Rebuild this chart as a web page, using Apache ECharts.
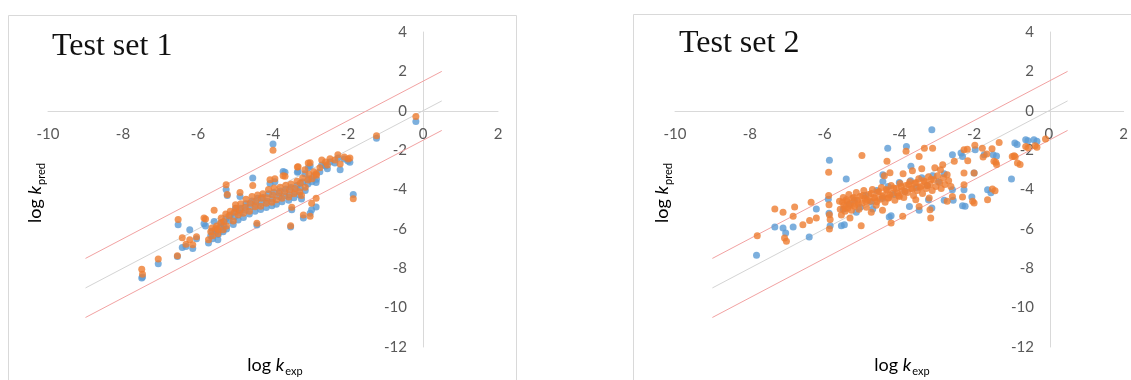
<!DOCTYPE html>
<html>
<head>
<meta charset="utf-8">
<script src="https://cdn.jsdelivr.net/npm/echarts@6/dist/echarts.min.js"></script>
<style>
html,body{margin:0;padding:0;background:#fff;}
#chart{width:1131px;height:380px;}
</style>
</head>
<body>
<div id="chart"></div>
<script>
// ---------- DATA ----------
var xTicks = [-10, -8, -6, -4, -2, 0, 2];
var yTicks = [4, 2, 0, -2, -4, -6, -8, -10, -12];
var panelTitles = ['Test set 1', 'Test set 2'];

// reference lines: y = x and y = x ± 1.5 drawn between these x values
var refLineX = [-9, 0.5];
var refOffset = 1.5;

// Test set 1 (same compounds for both models)
var set1X = [-7.50,-7.48,-7.06,-6.55,-6.53,-6.42,-6.32,-6.22,-6.14,-6.04,-5.84,-5.80,-5.57,-5.47,-5.25,-5.22,-5.00,-4.88,-4.54,-4.43,-4.00,-3.53,-3.50,-3.24,-3.19,-3.01,-2.97,-2.85,-1.86,-1.24,-0.19,
 -1.95,-2.00,-2.10,-2.27,-2.21,-2.35,-2.48,-2.55,-2.60,-2.70,-2.75,-2.85,-3.01,-3.06,-3.15,-3.33,-3.35,-3.68,-3.73,-3.95,-4.08,
 -5.72,-5.66,-5.63,-5.61,-5.53,-5.50,-5.46,-5.40,-5.38,-5.33,-5.31,-5.26,-5.24,-5.17,-5.14,-5.06,-5.03,-4.99,-4.93,-4.88,-4.86,-4.79,-4.74,-4.72,-4.63,-4.61,-4.56,-4.48,-4.46,-4.41,-4.33,-4.31,-4.27,-4.18,-4.16,-4.12,-4.03,-4.01,-3.97,-3.91,-3.84,-3.81,-3.76,-3.69,-3.66,-3.58,-3.56,-3.52,-3.44,-3.41,-3.36,-3.29,-3.27,-3.21,-3.14,-3.07,-3.04,-2.96,-2.91,-2.84];
var set1Blue = [-8.50,-8.45,-7.77,-7.40,-5.79,-6.95,-6.90,-6.05,-7.00,-6.50,-5.74,-5.85,-5.62,-6.55,-4.00,-4.30,-4.95,-4.35,-3.42,-5.80,-1.69,-5.90,-5.03,-4.48,-5.45,-5.20,-5.03,-4.89,-4.26,-1.40,-0.54,
 -2.62,-2.55,-2.45,-2.40,-3.00,-2.65,-2.60,-2.95,-2.80,-2.75,-3.10,-3.65,-2.80,-2.90,-3.20,-3.08,-3.13,-3.13,-3.08,-3.60,-3.70,
 -6.72,-6.35,-6.12,-6.50,-6.18,-6.00,-6.28,-5.92,-5.68,-6.15,-5.80,-5.48,-6.00,-5.58,-5.30,-5.78,-5.40,-5.12,-5.55,-5.20,-4.95,-5.42,-5.05,-4.72,-5.25,-4.90,-4.58,-5.10,-4.78,-4.45,-5.02,-4.68,-4.40,-4.92,-4.60,-4.22,-4.82,-4.48,-4.15,-4.75,-4.35,-4.08,-4.62,-4.32,-3.98,-4.55,-4.25,-3.90,-4.42,-4.12,-3.80,-4.28,-3.92,-3.62,-4.05,-3.72,-3.45,-3.60,-3.30,-3.48];
var set1Orange = [-8.05,-8.30,-7.53,-7.36,-5.53,-6.45,-6.78,-6.55,-6.80,-6.40,-5.45,-5.50,-5.05,-6.25,-3.76,-4.26,-4.77,-4.15,-3.80,-5.72,-2.01,-5.84,-4.90,-4.30,-5.30,-5.36,-4.70,-4.45,-4.47,-1.27,-0.29,
 -2.40,-2.45,-2.35,-2.23,-2.70,-2.50,-2.44,-2.75,-2.60,-2.50,-2.90,-3.20,-2.64,-2.66,-3.00,-2.84,-2.86,-3.33,-3.30,-3.45,-3.50,
 -6.55,-6.15,-5.95,-6.35,-5.98,-5.85,-6.05,-5.72,-5.45,-6.05,-5.62,-5.25,-5.85,-5.35,-5.10,-5.60,-5.15,-4.95,-5.30,-5.05,-4.72,-5.20,-4.90,-4.50,-5.10,-4.70,-4.35,-4.88,-4.60,-4.28,-4.85,-4.45,-4.22,-4.70,-4.42,-4.00,-4.65,-4.28,-3.92,-4.52,-4.18,-3.88,-4.45,-4.12,-3.78,-4.38,-4.02,-3.72,-4.22,-3.95,-3.58,-4.12,-3.68,-3.42,-3.88,-3.52,-3.22,-3.45,-3.10,-3.28];

// Test set 2
var set2BlueX = [-7.82,-7.33,-7.11,-7.04,-6.84,-6.41,-6.22,-5.87,-5.90,-5.88,-5.85,-5.55,-5.42,-5.47,-5.15,-4.71,-4.44,-4.31,-4.27,-4.22,-3.81,-3.73,-3.47,-3.22,-3.13,-3.13,-2.80,-2.58,-2.58,-2.56,-2.35,-2.31,-2.31,-2.27,-2.24,-2.06,-2.00,-1.97,-1.73,-1.64,-1.55,-1.49,-1.40,-1.00,-0.91,-0.85,-0.62,-0.56,-0.40,-0.32,
 -5.50,-5.35,-5.20,-5.05,-4.90,-4.75,-4.60,-4.45,-4.30,-4.15,-4.00,-3.85,-3.70,-3.55,-3.40,-3.25,-3.10,-2.95,-2.80,-3.69,-4.44];
var set2BlueY = [-7.34,-5.90,-5.96,-6.21,-5.90,-6.41,-4.99,-2.52,-4.50,-5.20,-5.84,-5.84,-3.47,-5.79,-5.16,-4.99,-3.25,-1.90,-5.40,-5.33,-1.81,-4.86,-5.06,-4.52,-4.94,-0.96,-4.55,-2.23,-4.01,-4.55,-2.15,-2.32,-4.82,-4.01,-4.85,-4.38,-3.16,-1.98,-2.23,-4.01,-4.16,-2.23,-2.30,-3.47,-1.64,-1.72,-1.47,-1.52,-1.47,-1.55,
 -5.00,-4.75,-4.55,-4.90,-4.30,-4.65,-4.05,-4.45,-3.85,-4.25,-3.65,-4.10,-3.55,-3.90,-3.40,-3.80,-3.30,-3.60,-3.20,-2.82,-3.59];
var set2OrangeX = [-7.80,-7.33,-7.11,-7.07,-7.02,-6.84,-6.80,-6.58,-6.40,-6.36,-6.22,-5.89,-5.89,-5.88,-5.87,-5.85,-5.87,-5.02,-5.00,-4.33,-4.22,-3.91,-3.82,-3.56,-3.47,-3.33,-3.20,-3.16,-3.11,-2.84,-2.58,-2.53,-2.31,-2.27,-2.27,-2.27,-2.18,-2.17,-2.04,-2.00,-1.98,-1.78,-1.76,-1.66,-1.64,-1.52,-1.51,-1.47,-1.42,-1.40,-1.33,-0.98,-0.93,-0.90,-0.84,-0.77,-0.62,-0.56,-0.37,-0.32,-0.09,-2.72,-2.00,-1.44,-3.18,-3.47,
 -5.60,-5.58,-5.55,-5.50,-5.48,-5.45,-5.40,-5.38,-5.35,-5.30,-5.28,-5.25,-5.20,-5.15,-5.12,-5.08,-5.05,-5.00,-4.95,-4.92,-4.88,-4.82,-4.78,-4.72,-4.68,-4.62,-4.58,-4.52,-4.48,-4.42,-4.38,-4.32,-4.28,-4.22,-4.18,-4.12,-4.08,-4.02,-3.98,-3.92,-3.88,-3.82,-3.78,-3.72,-3.68,-3.62,-3.58,-3.52,-3.48,-3.42,-3.38,-3.32,-3.28,-3.22,-3.18,-3.12,-3.08,-3.02,-2.98,-2.92,-2.88,-2.82,-2.78,-2.72,-2.68,-2.62,
 -5.32,-4.75,-4.45,-4.40,-4.25,-3.90,-3.65,-3.40,-3.05,-2.90,
 -5.52,-5.42,-5.33,-5.22,-5.10,-4.98,-4.85,-4.75,-4.65,-4.55,-4.45,-4.35,-4.25,-4.15,-4.05,-3.95,-3.85,-3.75,-3.65,-3.55,-3.45,-3.35,-3.25,-3.15,-5.45,-5.18,-4.90,-4.60,-4.30,-4.00];
var set2OrangeY = [-6.35,-4.99,-5.16,-6.46,-6.63,-5.36,-4.89,-5.79,-5.57,-4.65,-5.45,-3.13,-4.31,-4.77,-5.28,-5.53,-6.00,-5.84,-2.27,-2.57,-5.70,-5.36,-2.06,-4.52,-2.32,-1.90,-4.43,-5.45,-1.90,-2.74,-4.35,-2.57,-4.38,-1.98,-3.16,-3.76,-1.95,-2.54,-4.60,-3.16,-1.75,-1.90,-2.35,-2.20,-4.52,-1.93,-3.97,-2.57,-2.62,-2.73,-1.61,-2.32,-2.28,-2.34,-2.66,-2.73,-1.81,-1.88,-1.78,-1.85,-1.44,-4.60,-4.68,-4.06,-5.03,-4.86,
 -4.60,-5.00,-5.30,-4.40,-4.80,-5.10,-4.60,-4.95,-4.25,-4.70,-5.05,-4.45,-4.85,-4.15,-4.55,-5.00,-4.35,-4.70,-4.05,-4.45,-4.90,-4.25,-4.60,-4.00,-4.40,-4.80,-4.15,-4.50,-3.90,-4.30,-4.65,-4.05,-4.40,-3.80,-4.20,-4.55,-3.95,-4.30,-3.70,-4.05,-4.40,-3.80,-4.15,-3.60,-3.95,-4.30,-3.70,-4.05,-3.45,-3.85,-4.20,-3.60,-3.95,-3.35,-3.75,-4.05,-3.50,-3.85,-3.30,-3.65,-3.95,-3.40,-3.75,-3.25,-3.55,-3.85,
 -5.45,-5.15,-5.05,-3.30,-3.15,-3.20,-3.05,-2.95,-2.90,-3.00,
 -4.65,-4.52,-4.80,-4.40,-4.68,-4.30,-4.55,-4.20,-4.45,-4.10,-4.35,-4.00,-4.28,-3.92,-4.18,-3.85,-4.10,-3.75,-3.98,-3.65,-3.90,-3.55,-3.80,-3.48,-4.95,-4.75,-4.60,-4.62,-4.45,-4.35];

// ---------- BUILD ----------
function pairs(xs, ys){ var out=[]; for (var i=0;i<xs.length;i++) out.push([xs[i], ys[i]]); return out; }
function refLine(off){ return refLineX.map(function(x){ return [x, x + off]; }); }

var BLUE = '#5b9bd5', ORANGE = '#ed7d31', RED = '#f2a2a2', GRAYLINE = '#d4d4d4';
var AXISCOL = '#d9d9d9', LABCOL = '#595959', TITLECOL = '#404040';
var TICKFONT = 'Lato, "Open Sans", sans-serif';

var GW = 450, GH = 315;
var grids = [
  {left: 48, top: 32, width: GW, height: GH},
  {left: 675, top: 32, width: GW, height: GH}
];
var xMin = xTicks[0], xMax = xTicks[xTicks.length-1];
var yMin = yTicks[yTicks.length-1], yMax = yTicks[0];
// place axes so they cross at the origin (like the Excel chart)
var xAxisOffset = -GH * (0 - yMin) / (yMax - yMin);
var yAxisOffset = -GW * (0 - xMin) / (xMax - xMin);

function xAxisFor(i){
  return {
    gridIndex: i, type: 'value', min: xMin, max: xMax, interval: 2, position: 'bottom', offset: xAxisOffset,
    axisLine: {show: true, onZero: false, lineStyle: {color: AXISCOL, width: 1}},
    axisTick: {show: false}, splitLine: {show: false},
    axisLabel: {margin: 16, color: LABCOL, fontSize: 15, fontFamily: TICKFONT}
  };
}
function yAxisFor(i){
  return {
    gridIndex: i, type: 'value', min: yMin, max: yMax, interval: 2, position: 'left', offset: yAxisOffset,
    axisLine: {show: true, onZero: false, lineStyle: {color: AXISCOL, width: 1}},
    axisTick: {show: false}, splitLine: {show: false},
    axisLabel: {margin: 16, color: LABCOL, fontSize: 15, fontFamily: TICKFONT}
  };
}

var series = [];
[0,1].forEach(function(i){
  series.push({type:'line', xAxisIndex:i, yAxisIndex:i, data: refLine(refOffset), symbol:'none', silent:true, z:1,
    lineStyle:{color:RED, width:1}});
  series.push({type:'line', xAxisIndex:i, yAxisIndex:i, data: refLine(0), symbol:'none', silent:true, z:1,
    lineStyle:{color:GRAYLINE, width:1}});
  series.push({type:'line', xAxisIndex:i, yAxisIndex:i, data: refLine(-refOffset), symbol:'none', silent:true, z:1,
    lineStyle:{color:RED, width:1}});
});
series.push({type:'scatter', xAxisIndex:0, yAxisIndex:0, data: pairs(set1X, set1Blue), symbolSize:7, itemStyle:{color:BLUE}, z:3});
series.push({type:'scatter', xAxisIndex:0, yAxisIndex:0, data: pairs(set1X, set1Orange), symbolSize:7, itemStyle:{color:ORANGE}, z:4});
series.push({type:'scatter', xAxisIndex:1, yAxisIndex:1, data: pairs(set2BlueX, set2BlueY), symbolSize:7, itemStyle:{color:BLUE}, z:3});
series.push({type:'scatter', xAxisIndex:1, yAxisIndex:1, data: pairs(set2OrangeX, set2OrangeY), symbolSize:7, itemStyle:{color:ORANGE}, z:4});

var richAxis = {
  b: {fontSize: 18, fontFamily: TICKFONT, color: TITLECOL, lineHeight: 20, verticalAlign: 'top'},
  k: {fontSize: 18, fontFamily: TICKFONT, fontStyle: 'italic', color: TITLECOL, lineHeight: 20, verticalAlign: 'top'},
  s: {fontSize: 11, fontFamily: TICKFONT, color: TITLECOL, lineHeight: 20, verticalAlign: 'top', padding: [10, 0, 0, 1]}
};

function panelGraphics(idx, dx, titleY){
  return [
    {type:'text', x: 52 + dx, y: titleY, z: 10,
      style:{text: panelTitles[idx], font: '32px "Liberation Serif", "Times New Roman", serif', fill:'#111', verticalAlign:'bottom'}},
    {type:'text', x: 275 + dx, y: 366, z: 10,
      style:{text:'{b|log }{k|k}{s|exp}', rich: richAxis, align:'center', verticalAlign:'middle'}},
    {type:'text', x: 36 + dx, y: 193, rotation: Math.PI/2, z: 10,
      style:{text:'{b|log }{k|k}{s|pred}', rich: richAxis, align:'center', verticalAlign:'middle'}}
  ];
}

var graphics = [
  {type:'rect', shape:{x:8.5, y:15.5, width:508, height:400}, style:{fill:'none', stroke:'#d9d9d9', lineWidth:1}, z:0, silent:true},
  {type:'rect', shape:{x:633.5, y:14.5, width:520, height:400}, style:{fill:'none', stroke:'#d9d9d9', lineWidth:1}, z:0, silent:true}
].concat(panelGraphics(0, 0, 63)).concat(panelGraphics(1, 627, 60));

var chart = echarts.init(document.getElementById('chart'), null, {renderer:'canvas'});
chart.setOption({
  animation: false,
  backgroundColor: '#fff',
  grid: grids,
  xAxis: [xAxisFor(0), xAxisFor(1)],
  yAxis: [yAxisFor(0), yAxisFor(1)],
  series: series,
  graphic: graphics
});
</script>
</body>
</html>
